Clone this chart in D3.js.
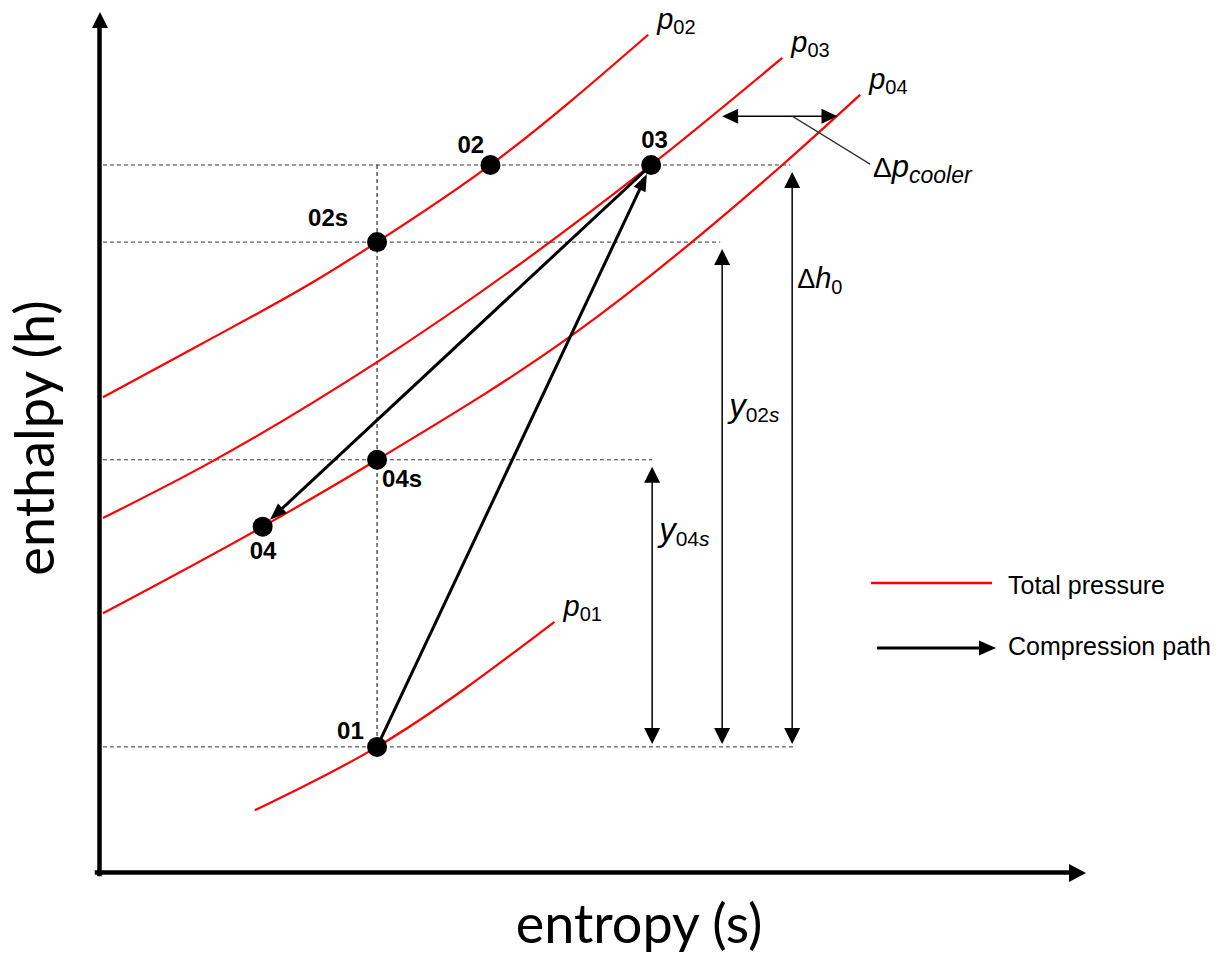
<!DOCTYPE html>
<html>
<head>
<meta charset="utf-8">
<script src="https://cdn.jsdelivr.net/npm/d3@7"></script>
<style>
  body { margin: 0; background: #fff; }
  svg { display: block; }
</style>
</head>
<body>
<svg id="chart" width="1220" height="956"></svg>
<script>
// ---- State points of the two-stage compression with intercooling ----
const stateNames    = ["01", "02s", "02", "03", "04s", "04"];
const stateEntropy  = [28.2, 28.2, 39.7, 56.0, 28.2, 16.6];
const stateEnthalpy = [14.6, 73.5, 82.5, 82.5, 48.1, 40.3];

// ---- Total-pressure isobars (entropy, enthalpy samples) ----
const isobarNames = ["p01", "p02", "p03", "p04"];
const p01Entropy  = [15.8, 28.2, 46.2];
const p01Enthalpy = [7.2, 14.6, 29.2];
const p02Entropy  = [0.4, 10.2, 22.1, 28.2, 39.7, 55.7];
const p02Enthalpy = [55.4, 61.5, 69.1, 73.5, 82.5, 97.7];
const p03Entropy  = [0.4, 11.3, 28.2, 56.0, 69.3];
const p03Enthalpy = [41.3, 47.8, 59.5, 82.5, 95.0];
const p04Entropy  = [0.4, 16.6, 28.2, 48.3, 69.3, 77.2];
const p04Enthalpy = [30.2, 40.3, 48.1, 62.9, 82.5, 90.7];

// ---- Compression path (from state -> to state) ----
const pathFrom = ["01", "03"];
const pathTo   = ["03", "04"];

// ---- Reference enthalpy levels (dashed guides) and where they end in entropy ----
const guideStates = ["03", "02s", "04s", "01"];
const guideEndEntropy = [70.1, 63.0, 56.1, 70.6];

// ---- Enthalpy differences (vertical dimension arrows) ----
const dimNames    = ["dh0", "y02s", "y04s"];
const dimEntropy  = [70.3, 63.2, 56.1];
const dimTopState = ["03", "02s", "04s"];
const dimBaseState = "01";

// ---- Cooler pressure loss (horizontal dimension arrow) ----
const coolerEnthalpy = 88.2;
const coolerEntropy  = [63.2, 74.9];
const coolerLeaderEnd = [78.2, 82.6];

// ---- Legend entries ----
const legendLabels = ["Total pressure", "Compression path"];

// ------------------------------------------------------------------
const svg = d3.select("#chart");
const x = d3.scaleLinear().domain([0, 100]).range([99, 1085]);
const y = d3.scaleLinear().domain([0, 100]).range([872, 15]);

const state = {};
stateNames.forEach((n, i) => state[n] = { s: stateEntropy[i], h: stateEnthalpy[i] });

const RED = "#ff0000";
const DOT_R = 10;
const SANS = "'Liberation Sans', Arial, sans-serif";

function triangle(g, tx, ty, dx, dy, len, wid, fill) {
  // tip at (tx,ty), pointing along unit (dx,dy)
  const bx = tx - dx * len, by = ty - dy * len;
  const nx = -dy * wid / 2, ny = dx * wid / 2;
  g.append("path")
    .attr("d", `M${tx},${ty}L${bx + nx},${by + ny}L${bx - nx},${by - ny}Z`)
    .attr("fill", fill || "#000");
}

// ---- Axes ----
const gx = svg.append("g")
  .attr("transform", `translate(0,${y(0)})`)
  .call(d3.axisBottom(x).tickValues([]).tickSizeOuter(0));
const gy = svg.append("g")
  .attr("transform", `translate(${x(0)},0)`)
  .call(d3.axisLeft(y).tickValues([]).tickSizeOuter(0));
[gx, gy].forEach(g => g.select(".domain")
  .attr("stroke", "#000").attr("stroke-width", 4.5).attr("stroke-linecap", "square"));
gx.select(".domain").attr("d", `M${x(0) - 2},0.5H${x(100) - 8}`);
gy.select(".domain").attr("d", `M0.5,${y(0) + 2}V${y(100) + 8}`);
const axArrows = svg.append("g");
triangle(axArrows, x(100) + 1, y(0) + 1, 1, 0, 17, 18);
triangle(axArrows, x(0) + 1, y(100) - 3, 0, -1, 16, 16);

// Axis titles
svg.append("text")
  .attr("x", 639).attr("y", 943)
  .attr("text-anchor", "middle")
  .attr("font-family", "Lato, 'Open Sans', sans-serif")
  .attr("font-size", 54)
  .attr("fill", "#000")
  .text("entropy (s)");
svg.append("text")
  .attr("transform", `translate(54,438) rotate(-90)`)
  .attr("text-anchor", "middle")
  .attr("font-family", "Lato, 'Open Sans', sans-serif")
  .attr("font-size", 54)
  .attr("fill", "#000")
  .text("enthalpy (h)");

// ---- Dashed guides ----
const guides = svg.append("g")
  .attr("stroke", "#333").attr("stroke-width", 1).attr("stroke-dasharray", "4,3").attr("fill", "none");
guideStates.forEach((n, i) => {
  guides.append("line")
    .attr("x1", x(0.4)).attr("x2", x(guideEndEntropy[i]))
    .attr("y1", y(state[n].h)).attr("y2", y(state[n].h));
});
guides.append("line")
  .attr("x1", x(state["01"].s)).attr("x2", x(state["01"].s))
  .attr("y1", y(state["03"].h)).attr("y2", y(state["01"].h))
  .attr("stroke", "#000");

// ---- Isobars ----
const isobarData = [
  d3.zip(p01Entropy, p01Enthalpy),
  d3.zip(p02Entropy, p02Enthalpy),
  d3.zip(p03Entropy, p03Enthalpy),
  d3.zip(p04Entropy, p04Enthalpy)
];
const line = d3.line().x(d => x(d[0])).y(d => y(d[1])).curve(d3.curveMonotoneX);
svg.append("g").selectAll("path")
  .data(isobarData).join("path")
  .attr("d", line)
  .attr("fill", "none").attr("stroke", RED).attr("stroke-width", 2.2);

// Isobar labels: italic p with upright subscript
const isoLabels = svg.append("g").attr("font-family", SANS).attr("fill", "#000");
isobarNames.forEach((name, i) => {
  const pts = isobarData[i];
  const last = pts[pts.length - 1];
  const t = isoLabels.append("text")
    .attr("x", x(last[0]) + 9).attr("y", y(last[1]) - 6);
  t.append("tspan").attr("font-style", "italic").attr("font-size", 29).text("p");
  t.append("tspan").attr("font-size", 20).attr("dy", 5).text(name.slice(1));
});

// ---- Compression path arrows ----
const paths = svg.append("g");
pathFrom.forEach((f, i) => {
  const a = state[f], b = state[pathTo[i]];
  const x1 = x(a.s), y1 = y(a.h), x2 = x(b.s), y2 = y(b.h);
  const L = Math.hypot(x2 - x1, y2 - y1);
  const dx = (x2 - x1) / L, dy = (y2 - y1) / L;
  const tx = x2 - dx * DOT_R, ty = y2 - dy * DOT_R;
  paths.append("line")
    .attr("x1", x1).attr("y1", y1)
    .attr("x2", tx - dx * 10).attr("y2", ty - dy * 10)
    .attr("stroke", "#000").attr("stroke-width", 3);
  triangle(paths, tx, ty, dx, dy, 17, 13);
});

// ---- Dimension arrows ----
const dims = svg.append("g");
function vDim(s, hTop, hBot) {
  const xx = x(s), yt = y(hTop) + 7, yb = y(hBot) - 3;
  dims.append("line").attr("x1", xx).attr("x2", xx)
    .attr("y1", yt + 10).attr("y2", yb - 10)
    .attr("stroke", "#000").attr("stroke-width", 1.5);
  triangle(dims, xx, yt, 0, -1, 16, 16);
  triangle(dims, xx, yb, 0, 1, 16, 16);
}
dimNames.forEach((n, i) => vDim(dimEntropy[i], state[dimTopState[i]].h, state[dimBaseState].h));

// cooler pressure-loss arrow
{
  const yy = y(coolerEnthalpy), xa = x(coolerEntropy[0]), xb = x(coolerEntropy[1]);
  dims.append("line").attr("x1", xa + 10).attr("x2", xb - 10)
    .attr("y1", yy).attr("y2", yy)
    .attr("stroke", "#000").attr("stroke-width", 1.5);
  triangle(dims, xa, yy, -1, 0, 16, 15);
  triangle(dims, xb, yy, 1, 0, 16, 15);
  dims.append("line")
    .attr("x1", x(dimEntropy[0])).attr("y1", yy)
    .attr("x2", x(coolerLeaderEnd[0])).attr("y2", y(coolerLeaderEnd[1]))
    .attr("stroke", "#333").attr("stroke-width", 1.2);
}

// Dimension labels
const dimText = svg.append("g").attr("font-family", SANS).attr("fill", "#000");
{
  const t = dimText.append("text").attr("x", x(coolerLeaderEnd[0]) + 3).attr("y", 177);
  t.append("tspan").attr("font-size", 28).text("Δ");
  t.append("tspan").attr("font-size", 31).attr("font-style", "italic").text("p");
  t.append("tspan").attr("font-size", 23).attr("font-style", "italic").attr("dy", 6).text("cooler");
}
{
  const t = dimText.append("text").attr("x", x(dimEntropy[0]) + 5).attr("y", 288);
  t.append("tspan").attr("font-size", 27).text("Δ");
  t.append("tspan").attr("font-size", 29).attr("font-style", "italic").text("h");
  t.append("tspan").attr("font-size", 20).attr("dy", 6).text("0");
}
[["02", 1, 417], ["04", 2, 541]].forEach(([sub, i, base]) => {
  const t = dimText.append("text").attr("x", x(dimEntropy[i]) + 7).attr("y", base);
  t.append("tspan").attr("font-size", 33).attr("font-style", "italic").text("y");
  t.append("tspan").attr("font-size", 21).attr("dy", 5).text(sub);
  t.append("tspan").attr("font-size", 21).attr("font-style", "italic").text("s");
});

// ---- State points ----
svg.append("g").selectAll("circle")
  .data(stateNames).join("circle")
  .attr("cx", n => x(state[n].s)).attr("cy", n => y(state[n].h))
  .attr("r", DOT_R).attr("fill", "#000");

// State labels (offsets from each point)
const labelOffset = {
  "01": [-40, -8], "02s": [-69, -16], "02": [-33, -12],
  "03": [-10, -17], "04s": [5, 27], "04": [-13, 32]
};
svg.append("g").selectAll("text")
  .data(stateNames).join("text")
  .attr("x", n => x(state[n].s) + labelOffset[n][0])
  .attr("y", n => y(state[n].h) + labelOffset[n][1])
  .attr("font-family", SANS)
  .attr("font-weight", "bold").attr("font-size", 24).attr("fill", "#000")
  .text(n => n);

// ---- Legend ----
const legend = svg.append("g").attr("font-family", SANS);
legend.append("line").attr("x1", 871).attr("x2", 992).attr("y1", 583).attr("y2", 583)
  .attr("stroke", RED).attr("stroke-width", 2.5);
legend.append("line").attr("x1", 877).attr("x2", 982).attr("y1", 648).attr("y2", 648)
  .attr("stroke", "#000").attr("stroke-width", 3);
triangle(legend, 996, 648, 1, 0, 17, 15);
legendLabels.forEach((txt, i) => {
  legend.append("text").attr("x", 1008).attr("y", 594 + i * 61)
    .attr("font-size", 25).attr("fill", "#000").text(txt);
});
</script>
</body>
</html>
